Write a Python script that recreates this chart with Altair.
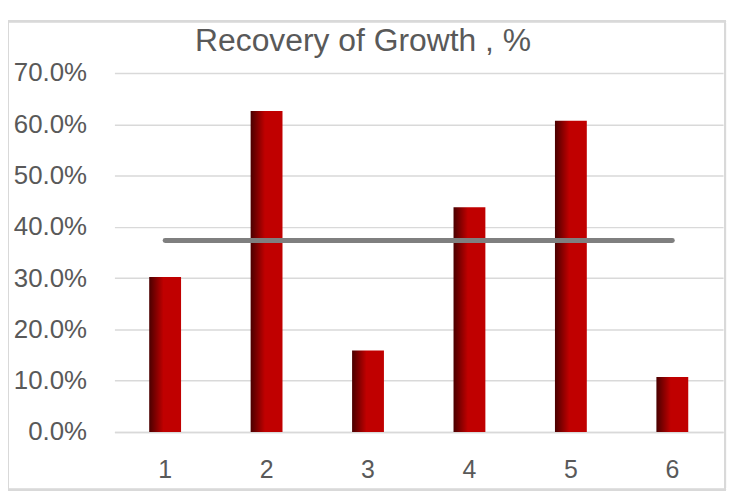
import altair as alt
import pandas as pd

categories = ["1", "2", "3", "4", "5", "6"]
values = [0.302, 0.626, 0.159, 0.438, 0.607, 0.107]
title_text = "Recovery of Growth , %"

avg = sum(values) / len(values)
df = pd.DataFrame({"cat": categories, "val": values, "avg": [avg] * len(values)})
df_title = pd.DataFrame({"t": [title_text]})

FONT = "Liberation Sans"
GRAY_TXT = "#595959"
GRID = "#d9d9d9"

x_enc = alt.X(
    "cat:N",
    sort=categories,
    title=None,
    scale=alt.Scale(paddingInner=0.686, paddingOuter=0.343),
    axis=alt.Axis(
        labelAngle=0, labelFontSize=25, labelColor=GRAY_TXT, labelFont=FONT,
        ticks=False, domain=True, domainColor=GRID, domainWidth=1.5,
        labelPadding=26, grid=False,
    ),
)
y_scale = alt.Scale(domain=[0, 0.7], nice=False)

bars = alt.Chart(df).mark_bar(
    color=alt.Gradient(
        gradient="linear",
        x1=0, y1=0, x2=1, y2=0,
        stops=[
            alt.GradientStop(offset=0, color="#4a0000"),
            alt.GradientStop(offset=0.45, color="#c00000"),
            alt.GradientStop(offset=1, color="#c00000"),
        ],
    )
).encode(
    x=x_enc,
    y=alt.Y(
        "val:Q",
        title=None,
        scale=y_scale,
        axis=alt.Axis(
            format=".1%", values=[0, 0.1, 0.2, 0.3, 0.4, 0.5, 0.6, 0.7],
            labelFontSize=26, labelColor=GRAY_TXT, labelFont=FONT,
            ticks=False, domain=False, grid=True, gridColor=GRID, gridWidth=1.5,
            labelPadding=28,
        ),
    ),
)

line = alt.Chart(df).mark_line(
    color="#7f7f7f", strokeWidth=5, strokeCap="round"
).encode(
    x=alt.X("cat:N", sort=categories),
    y=alt.Y("avg:Q", scale=y_scale),
)

frame = alt.Chart(df).mark_rect(
    filled=False, stroke=GRID, strokeWidth=2
).encode(
    x=alt.value(-107), x2=alt.value(614), y=alt.value(-52), y2=alt.value(419)
)

title = alt.Chart(df_title).mark_text(
    fontSize=32, color=GRAY_TXT, font=FONT, align="center", baseline="alphabetic"
).encode(
    text="t:N", x=alt.value(250), y=alt.value(-22)
)

chart = alt.layer(frame, bars, line, title).properties(
    width=612,
    height=361,
    autosize=alt.AutoSizeParams(type="none"),
    padding={"left": 107, "top": 64, "right": 8, "bottom": 60},
).configure_view(stroke=None)

chart.save("out.html", embed_options={"renderer": "svg", "actions": False})
